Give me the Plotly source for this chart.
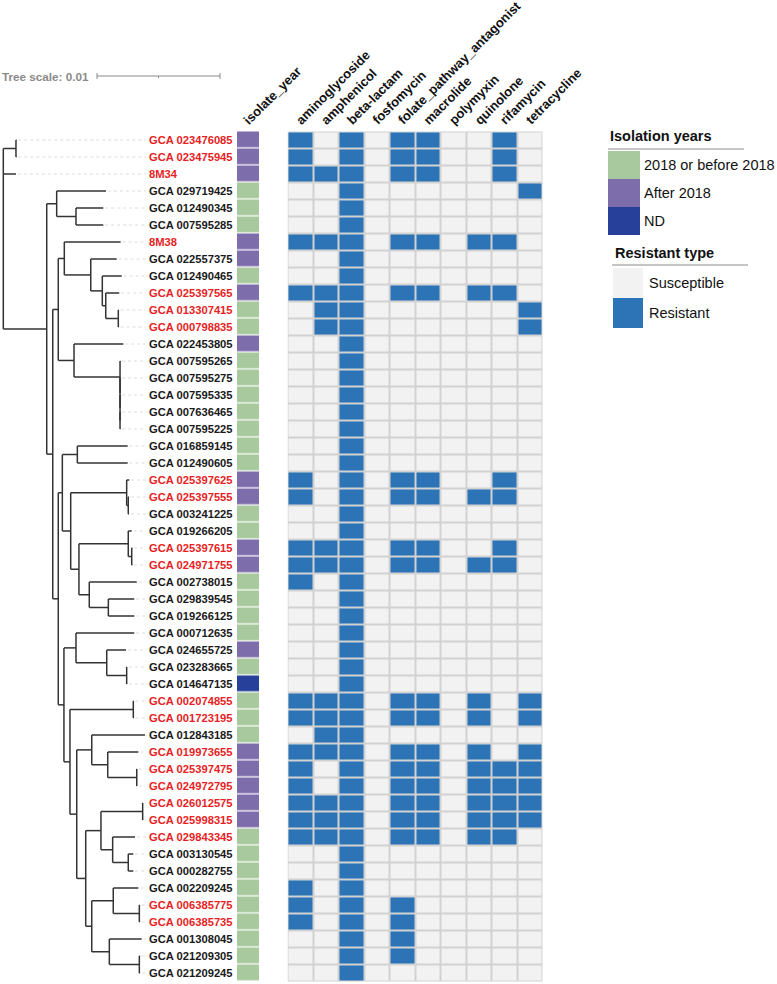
import plotly.graph_objects as go

FIG_W, FIG_H = 777, 984

# ---------------- data ----------------
# Phylogenetic tree (branch lengths in units of BRANCH_UNIT substitutions/site)
TREE_NEWICK = """
((GCA_023476085:0.04,GCA_023475945:0.04):1.03,8M34:1.03,
((GCA_029719425:4.01,(GCA_012490345:2.22,GCA_007595285:2.22):1.57):0.81,
(((8M38:4.58,(GCA_022557375:2.11,(GCA_012490465:1.58,(GCA_025397565:1.10,(GCA_013307415:0.03,GCA_000798835:0.03):1.02):0.28):0.94):2.15):0.49,
(GCA_022453805:4.01,(GCA_007595265:0.02,(GCA_007595275:0.02,(GCA_007595335:0.02,(GCA_007636465:0.02,GCA_007595225:0.02):0):0):0):3.74):1.28):0.45,
(((GCA_016859145:4.09,GCA_012490605:4.09):1.22,
((GCA_025397625:0.21,(GCA_025397555:0.06,GCA_003241225:0.06):0.13):4.55,
((GCA_019266205:0.28,(GCA_025397615:0.05,GCA_024971755:0.05):0.28):4.01,
(GCA_002738015:3.86,(GCA_029839545:2.11,GCA_019266125:2.11):1.55):0.84):0.67):0.68):0.33,
((GCA_000712635:4.74,(GCA_024655725:1.57,(GCA_023283665:0.03,GCA_014647135:0.03):1.62):2.50):0.98,
((GCA_002074855:0.03,GCA_001723195:0.03):5.15,
((GCA_012843185:4.33,(GCA_019973655:2.49,(GCA_025397475:0.02,GCA_024972795:0.02):2.36):1.30):1.22,
(((GCA_026012575:0.03,GCA_025998315:0.03):3.39,(GCA_029843345:1.82,(GCA_003130545:0.41,GCA_000282755:0.41):1.27):0.95):1.24,
((GCA_002209245:2.04,(GCA_006385775:0.03,GCA_006385735:0.03):2.12):1.75,(GCA_001308045:2.63,(GCA_021209305:0.06,GCA_021209245:0.06):2.44):1.43):0.49):0.73):0.55):0.49):0.46):0.45):0.49):3.53);
"""
BRANCH_UNIT = 0.001
TREE_SCALE = 0.01

strain_ids = [
    "GCA 023476085", "GCA 023475945", "8M34", "GCA 029719425", "GCA 012490345",
    "GCA 007595285", "8M38", "GCA 022557375", "GCA 012490465", "GCA 025397565",
    "GCA 013307415", "GCA 000798835", "GCA 022453805", "GCA 007595265", "GCA 007595275",
    "GCA 007595335", "GCA 007636465", "GCA 007595225", "GCA 016859145", "GCA 012490605",
    "GCA 025397625", "GCA 025397555", "GCA 003241225", "GCA 019266205", "GCA 025397615",
    "GCA 024971755", "GCA 002738015", "GCA 029839545", "GCA 019266125", "GCA 000712635",
    "GCA 024655725", "GCA 023283665", "GCA 014647135", "GCA 002074855", "GCA 001723195",
    "GCA 012843185", "GCA 019973655", "GCA 025397475", "GCA 024972795", "GCA 026012575",
    "GCA 025998315", "GCA 029843345", "GCA 003130545", "GCA 000282755", "GCA 002209245",
    "GCA 006385775", "GCA 006385735", "GCA 001308045", "GCA 021209305", "GCA 021209245",
]

Y_OLD, Y_NEW, Y_ND = "2018 or before 2018", "After 2018", "ND"
isolate_year = [
    Y_NEW, Y_NEW, Y_NEW, Y_OLD, Y_OLD, Y_OLD, Y_NEW, Y_NEW, Y_OLD, Y_NEW,
    Y_OLD, Y_OLD, Y_NEW, Y_OLD, Y_OLD, Y_OLD, Y_OLD, Y_OLD, Y_OLD, Y_OLD,
    Y_NEW, Y_NEW, Y_OLD, Y_OLD, Y_NEW, Y_NEW, Y_OLD, Y_OLD, Y_OLD, Y_OLD,
    Y_NEW, Y_OLD, Y_ND, Y_OLD, Y_OLD, Y_OLD, Y_NEW, Y_NEW, Y_NEW, Y_NEW,
    Y_NEW, Y_OLD, Y_OLD, Y_OLD, Y_OLD, Y_OLD, Y_OLD, Y_OLD, Y_OLD, Y_OLD,
]

drug_classes = ["aminoglycoside", "amphenicol", "beta-lactam", "fosfomycin",
                "folate_pathway_antagonist", "macrolide", "polymyxin", "quinolone",
                "rifamycin", "tetracycline"]

# 1 = resistant, 0 = susceptible (one string per strain, one char per drug class)
resistance_rows = [
    "1010110010", "1010110010", "1110110010", "0010000001", "0010000000",
    "0010000000", "1110110110", "0010000000", "0010000000", "1110110110",
    "0110000001", "0110000001", "0010000000", "0010000000", "0010000000",
    "0010000000", "0010000000", "0010000000", "0010000000", "0010000000",
    "1010110010", "1010110110", "0010000000", "0010000000", "1110110010",
    "1110110110", "1010000000", "0010000000", "0010000000", "0010000000",
    "0010000000", "0010000000", "0010000000", "1110110101", "1110110101",
    "0110000000", "1110110101", "1010110111", "1010110111", "1110110111",
    "1110110111", "1110110110", "0010000000", "0010000000", "1010000000",
    "1010100000", "1010100000", "0010100000", "0010100000", "0010000000",
]

year_categories = [Y_OLD, Y_NEW, Y_ND]
year_colors = ["#a8c89e", "#7e6dab", "#27419a"]
resistance_types = ["Susceptible", "Resistant"]
resistance_colors = ["#f2f2f2", "#2d74b6"]
MDR_MIN_CLASSES = 3

# ---------------- geometry (layout only) ----------------
ROW0_PX, ROW_PX = 140.0, 17.0
TREE_X0_PX, PX_PER_UNIT = 3.3, 12.3
LABEL_X_PX = 147.0
ISO_X_PX = (237.0, 259.0)
HEAT_X_PX = (287.5, 542.7)

FONT = "Liberation Sans, Arial, sans-serif"
TREE_COLOR = "#333333"
RED = "#e81e24"


def px2paper_x(px):
    return px / FIG_W


def px2paper_y(py):
    return 1 - py / FIG_H


def px2unit(px):
    return (px - TREE_X0_PX) / PX_PER_UNIT


# ---------------- tree parsing & layout ----------------
def parse_newick(text):
    s = "".join(text.split()).rstrip(";")
    pos = 0

    def node():
        nonlocal pos
        n = {"children": [], "name": "", "length": 0.0}
        if s[pos] == "(":
            pos += 1
            while True:
                n["children"].append(node())
                if s[pos] == ",":
                    pos += 1
                    continue
                pos += 1  # ')'
                break
        start = pos
        while pos < len(s) and s[pos] not in ":,()":
            pos += 1
        n["name"] = s[start:pos].replace("_", " ")
        if pos < len(s) and s[pos] == ":":
            pos += 1
            start = pos
            while pos < len(s) and s[pos] not in ",()":
                pos += 1
            n["length"] = float(s[start:pos])
        return n

    return node()


root = parse_newick(TREE_NEWICK)
root["length"] = 0.0
row_of = {name: i for i, name in enumerate(strain_ids)}
leaves = []


def place(n, x_parent):
    n["x"] = x_parent + n["length"]
    if not n["children"]:
        n["y"] = row_of[n["name"]]
        leaves.append(n)
    else:
        for c in n["children"]:
            place(c, n["x"])
        n["y"] = (n["children"][0]["y"] + n["children"][-1]["y"]) / 2


place(root, 0.0)

tx, ty = [], []


def segments(n):
    if n["children"]:
        tx.extend([n["x"], n["x"], None])
        ty.extend([n["children"][0]["y"], n["children"][-1]["y"], None])
        for c in n["children"]:
            tx.extend([n["x"], c["x"], None])
            ty.extend([c["y"], c["y"], None])
            segments(c)


segments(root)

lx, ly = [], []
label_u = px2unit(LABEL_X_PX)
for lf in leaves:
    lx.extend([lf["x"] + 0.15, label_u - 0.1, None])
    ly.extend([lf["y"], lf["y"], None])

# ---------------- figure ----------------
fig = go.Figure()

fig.add_trace(go.Scatter(x=lx, y=ly, mode="lines", xaxis="x", yaxis="y",
                         line=dict(color="#dcdcdc", width=1, dash="dot"),
                         hoverinfo="skip", showlegend=False))
fig.add_trace(go.Scatter(x=tx, y=ty, mode="lines", xaxis="x", yaxis="y",
                         line=dict(color=TREE_COLOR, width=1.5),
                         hoverinfo="skip", showlegend=False))

rows = list(range(len(strain_ids)))
year_code = [[year_categories.index(v)] for v in isolate_year]
fig.add_trace(go.Heatmap(
    z=year_code, x=[0], y=rows, xaxis="x2", yaxis="y",
    zmin=0, zmax=2,
    colorscale=[[0, year_colors[0]], [0.5, year_colors[1]], [1, year_colors[2]]],
    showscale=False, ygap=1.2, hoverinfo="skip"))

res_z = [[int(c) for c in r] for r in resistance_rows]
fig.add_trace(go.Heatmap(
    z=res_z, x=list(range(len(drug_classes))), y=rows, xaxis="x3", yaxis="y",
    zmin=0, zmax=1,
    colorscale=[[0, resistance_colors[0]], [1, resistance_colors[1]]],
    showscale=False, xgap=2, ygap=2, hoverinfo="skip"))

annotations = []
shapes = []

# leaf labels (red = multidrug resistant, >= 3 classes)
for name in strain_ids:
    i = row_of[name]
    n_res = sum(int(c) for c in resistance_rows[i])
    annotations.append(dict(
        x=label_u, y=i, xref="x", yref="y", text=name, showarrow=False,
        xanchor="left", yanchor="middle",
        font=dict(family=FONT, size=11.2, weight="bold",
                  color=RED if n_res >= MDR_MIN_CLASSES else "#1a1a1a")))

# column headers
annotations.append(dict(
    x=0, y=-0.5, xref="x2", yref="y", text="isolate_year", showarrow=False,
    xanchor="left", yanchor="bottom", textangle=-45, xshift=-10, yshift=1,
    font=dict(family=FONT, size=13, weight="bold", color="#111111")))
for j, d in enumerate(drug_classes):
    annotations.append(dict(
        x=j, y=-0.5, xref="x3", yref="y", text=d, showarrow=False,
        xanchor="left", yanchor="bottom", textangle=-45, xshift=-10, yshift=1,
        font=dict(family=FONT, size=13, weight="bold", color="#111111")))

# heatmap grid background
shapes.append(dict(type="rect", xref="x3", yref="y", x0=-0.5, x1=len(drug_classes) - 0.5,
                   y0=-0.5, y1=len(strain_ids) - 0.5, fillcolor="#d2d2d2",
                   line=dict(width=0), layer="below"))

# tree scale
scale_y = px2paper_y(76)
s0 = px2unit(97)
s1 = s0 + TREE_SCALE / BRANCH_UNIT
annotations.append(dict(
    x=0, y=scale_y, xref="paper", yref="paper", text=f"Tree scale: {TREE_SCALE:g}",
    showarrow=False, xanchor="left", yanchor="middle",
    font=dict(family=FONT, size=11.7, weight="bold", color="#8a8a8a")))
for xa, xb, ya, yb in [(s0, s1, scale_y, scale_y),
                       (s0, s0, px2paper_y(73), px2paper_y(79)),
                       (s1, s1, px2paper_y(73), px2paper_y(79)),
                       ((s0 + s1) / 2, (s0 + s1) / 2, px2paper_y(76), px2paper_y(78))]:
    shapes.append(dict(type="line", xref="x", yref="paper", x0=xa, x1=xb, y0=ya, y1=yb,
                       line=dict(color="#8a8a8a", width=1)))


# legends
def legend_block(title, title_xy, rule, box_x, box_top, box_h, text_x, labels, colors):
    annotations.append(dict(
        x=px2paper_x(title_xy[0]), y=px2paper_y(title_xy[1]), xref="paper", yref="paper",
        text=title, showarrow=False, xanchor="left", yanchor="middle",
        font=dict(family=FONT, size=14.5, weight="bold", color="#111111")))
    shapes.append(dict(type="line", xref="paper", yref="paper",
                       x0=px2paper_x(rule[0]), x1=px2paper_x(rule[1]),
                       y0=px2paper_y(rule[2]), y1=px2paper_y(rule[2]),
                       line=dict(color="#8c8c8c", width=1)))
    for k, (lab, col) in enumerate(zip(labels, colors)):
        t = box_top + k * box_h
        shapes.append(dict(type="rect", xref="paper", yref="paper",
                           x0=px2paper_x(box_x[0]), x1=px2paper_x(box_x[1]),
                           y0=px2paper_y(t), y1=px2paper_y(t + box_h),
                           fillcolor=col, line=dict(width=0)))
        annotations.append(dict(
            x=px2paper_x(text_x), y=px2paper_y(t + box_h / 2), xref="paper", yref="paper",
            text=lab, showarrow=False, xanchor="left", yanchor="middle",
            font=dict(family=FONT, size=14.5, color="#111111")))


legend_block("Isolation years", (608, 136), (608, 744, 149), (608, 640), 151, 28, 642,
             year_categories, year_colors)
legend_block("Resistant type", (613, 253), (612, 748, 265), (613, 643), 268, 30, 647,
             resistance_types, resistance_colors)

hidden = dict(visible=False, showgrid=False, zeroline=False, fixedrange=True)
fig.update_layout(
    width=FIG_W, height=FIG_H,
    margin=dict(l=0, r=0, t=0, b=0),
    paper_bgcolor="white", plot_bgcolor="rgba(0,0,0,0)",
    showlegend=False,
    xaxis=dict(domain=[0, 1], range=[px2unit(0), px2unit(FIG_W)], anchor="y", **hidden),
    xaxis2=dict(domain=[px2paper_x(ISO_X_PX[0]), px2paper_x(ISO_X_PX[1])],
                range=[-0.5, 0.5], anchor="y", **hidden),
    xaxis3=dict(domain=[px2paper_x(HEAT_X_PX[0]), px2paper_x(HEAT_X_PX[1])],
                range=[-0.5, len(drug_classes) - 0.5], anchor="y", **hidden),
    yaxis=dict(domain=[0, 1],
               range=[(FIG_H - ROW0_PX) / ROW_PX, -ROW0_PX / ROW_PX], anchor="x", **hidden),
    annotations=annotations,
    shapes=shapes,
)

# remove the browser's default 8px page margin so the figure sits at the window origin
fig.write_html("out.html", config={"displayModeBar": False},
               post_script="document.body.style.margin='0px';document.body.style.overflow='hidden';")
